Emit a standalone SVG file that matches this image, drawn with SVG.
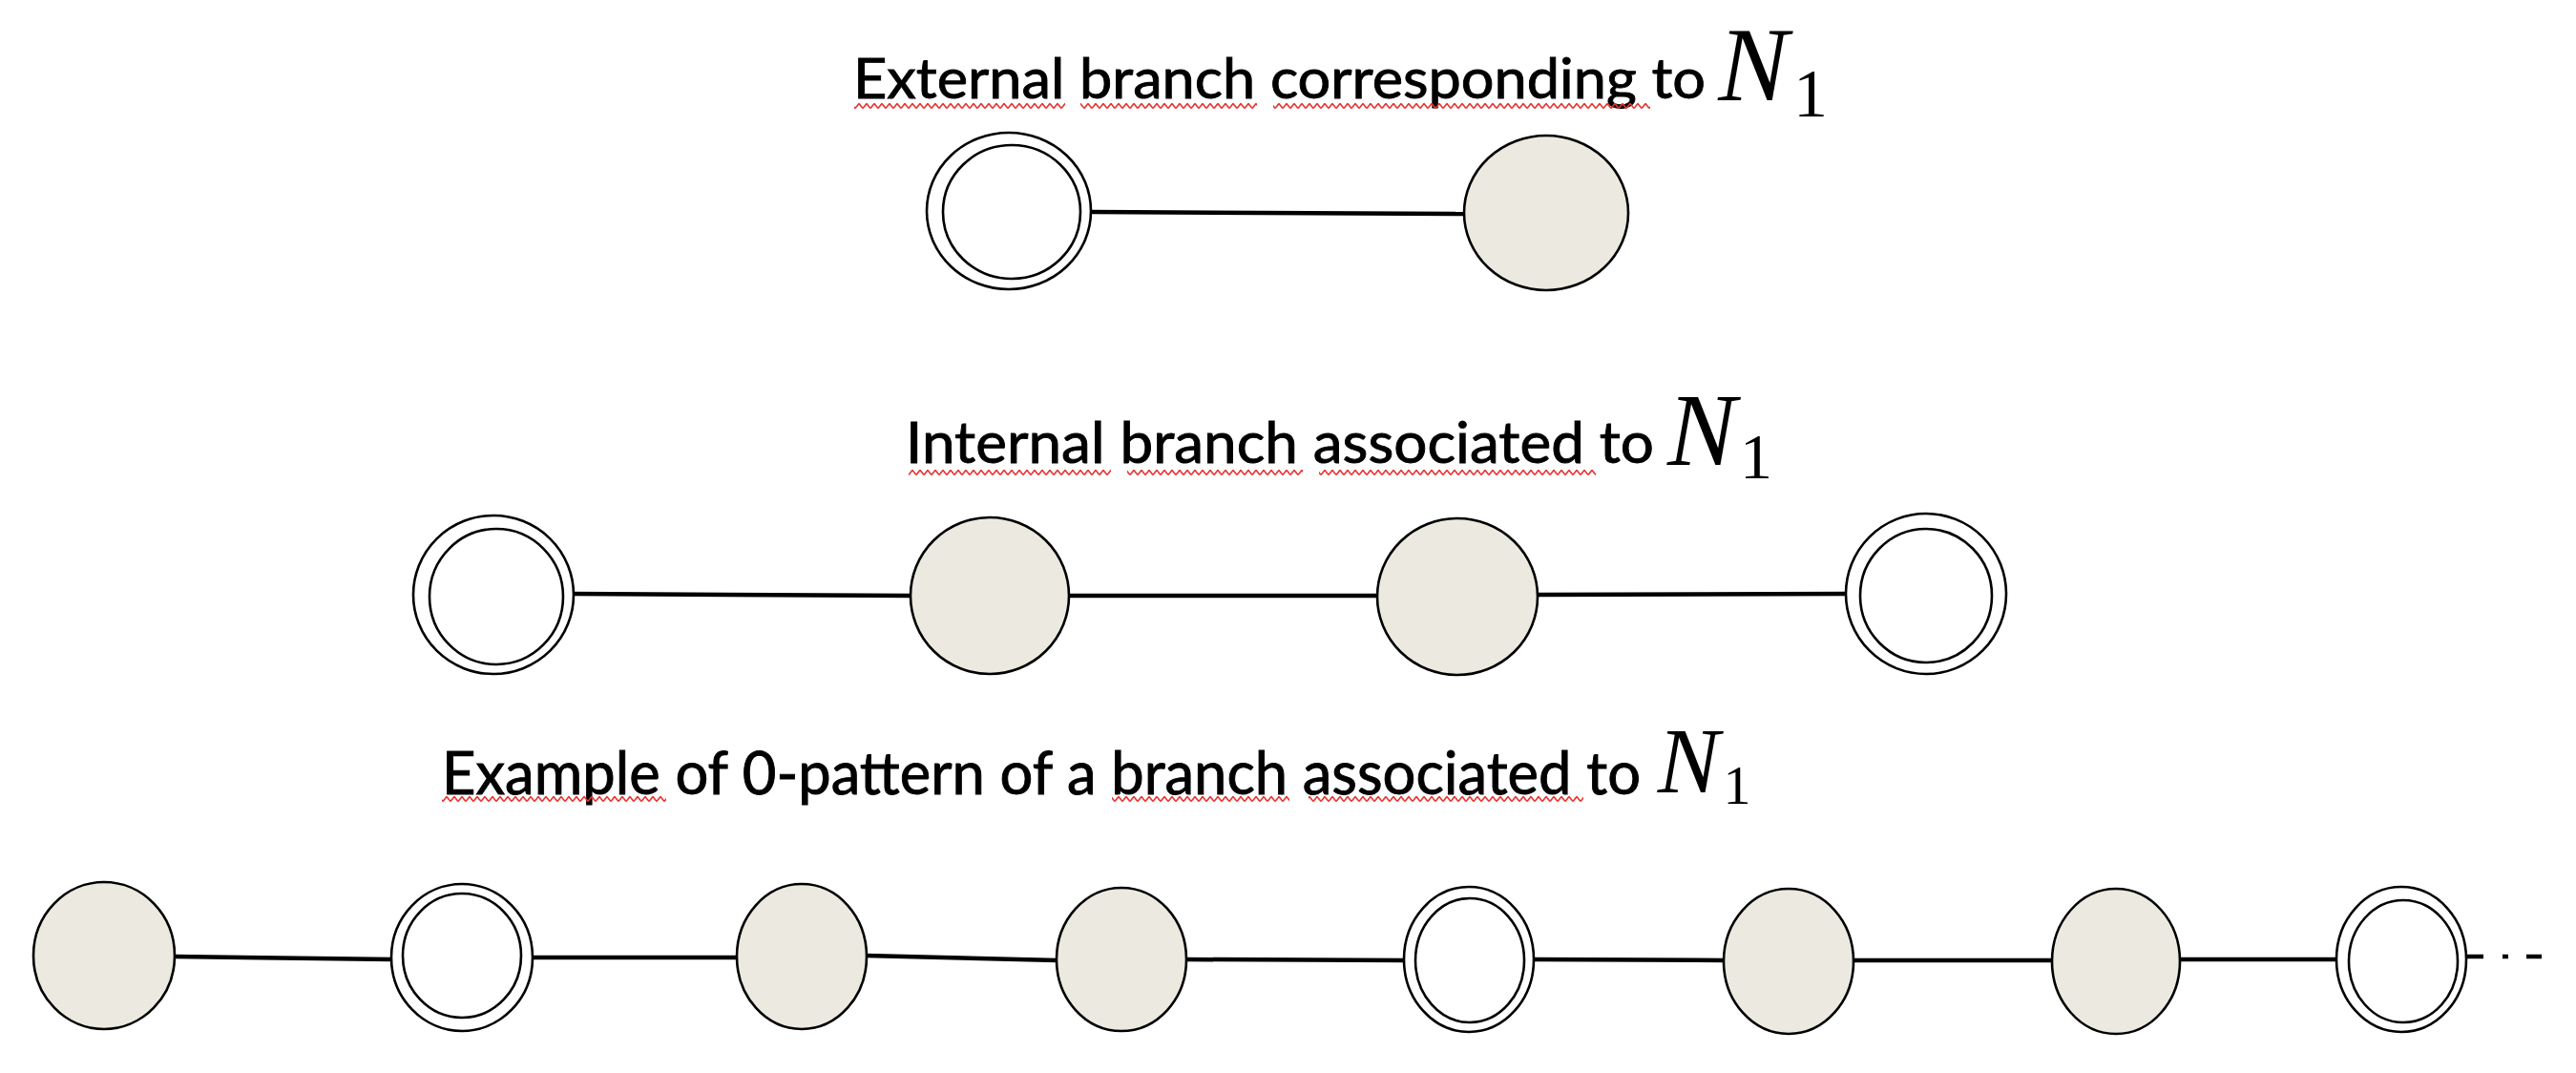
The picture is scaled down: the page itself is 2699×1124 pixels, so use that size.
<svg xmlns="http://www.w3.org/2000/svg" width="2699" height="1124" viewBox="0 0 2699 1124">
<style>
.bg{fill:#ffffff}
.lbl{font-family:Lato,"Open Sans","Liberation Sans",sans-serif;fill:#000;stroke:#000;stroke-width:0.9}
.math{font-family:"Liberation Serif","DejaVu Serif",serif;font-style:italic;fill:#000}
.sub{font-family:"Liberation Serif","DejaVu Serif",serif;fill:#000}
.filled{fill:#ECEAE0;stroke:#000;stroke-width:2.6}
.ring{fill:#fff;stroke:#000;stroke-width:2.6}
.edge{stroke:#000;stroke-width:4.5;fill:none;stroke-linecap:butt}
</style>
<defs>
<pattern id="squig" patternUnits="userSpaceOnUse" x="0" y="0" width="8" height="6">
<polyline points="0,5.5 4,0.5 8,5.5" fill="none" stroke="#e8312f" stroke-width="1.6"/>
</pattern>
</defs>
<rect class="bg" x="0" y="0" width="2699" height="1124"/>

<!-- titles -->
<g id="title1">
<text class="lbl" x="894" y="103" font-size="59" textLength="893" lengthAdjust="spacingAndGlyphs">External branch corresponding to</text>
<text class="math" x="1837" y="105" font-size="110" text-anchor="middle">N</text>
<text class="sub" x="1897" y="122" font-size="72" text-anchor="middle">1</text>
<rect x="895" y="108" width="221" height="6" fill="url(#squig)"/>
<rect x="1132" y="108" width="185" height="6" fill="url(#squig)"/>
<rect x="1334" y="108" width="395" height="6" fill="url(#squig)"/>
</g>
<g id="title2">
<text class="lbl" x="949" y="485" font-size="60" textLength="784" lengthAdjust="spacingAndGlyphs">Internal branch associated to</text>
<text class="math" x="1783" y="487" font-size="108" text-anchor="middle">N</text>
<text class="sub" x="1840" y="501" font-size="68" text-anchor="middle">1</text>
<rect x="952" y="492" width="212" height="6" fill="url(#squig)"/>
<rect x="1181" y="492" width="184" height="6" fill="url(#squig)"/>
<rect x="1382" y="492" width="290" height="6" fill="url(#squig)"/>
</g>
<g id="title3">
<text class="lbl" x="463" y="832" font-size="61" textLength="1256" lengthAdjust="spacingAndGlyphs">Example of 0-pattern of a branch associated to</text>
<text class="math" x="1769" y="830" font-size="97" text-anchor="middle">N</text>
<text class="sub" x="1820" y="842" font-size="58" text-anchor="middle">1</text>
<rect x="463" y="834" width="235" height="6" fill="url(#squig)"/>
<rect x="1165" y="834" width="186" height="6" fill="url(#squig)"/>
<rect x="1371" y="834" width="288" height="6" fill="url(#squig)"/>
</g>

<!-- connectors -->
<g id="connectors">
<line class="edge" x1="1143" y1="222" x2="1535" y2="224"/>
<line class="edge" x1="600" y1="622" x2="955" y2="624"/>
<line class="edge" x1="1119" y1="624" x2="1444" y2="624"/>
<line class="edge" x1="1610" y1="623" x2="1935" y2="622"/>
<line class="edge" x1="183" y1="1002" x2="411" y2="1005"/>
<line class="edge" x1="557" y1="1003" x2="773" y2="1003"/>
<line class="edge" x1="907" y1="1001" x2="1108" y2="1006"/>
<line class="edge" x1="1242" y1="1005" x2="1472" y2="1006"/>
<line class="edge" x1="1606" y1="1005" x2="1807" y2="1006"/>
<line class="edge" x1="1941" y1="1006" x2="2151" y2="1006"/>
<line class="edge" x1="2283" y1="1005" x2="2449" y2="1005"/>
<line class="edge" x1="2584" y1="1002" x2="2663" y2="1002" stroke-dasharray="18 20 6 19 16 40"/>
</g>

<!-- row 1 -->
<g id="r1n1"><ellipse class="ring" cx="1057" cy="221" rx="86" ry="82"/><ellipse class="ring" cx="1060" cy="222" rx="72" ry="70"/></g>
<g id="r1n2"><ellipse class="filled" cx="1620" cy="223" rx="86" ry="81"/></g>

<!-- row 2 -->
<g id="r2n1"><ellipse class="ring" cx="517" cy="623" rx="84" ry="83"/><ellipse class="ring" cx="520" cy="625" rx="70" ry="71"/></g>
<g id="r2n2"><ellipse class="filled" cx="1037" cy="624" rx="83" ry="82"/></g>
<g id="r2n3"><ellipse class="filled" cx="1527" cy="625" rx="84" ry="82"/></g>
<g id="r2n4"><ellipse class="ring" cx="2018" cy="622" rx="84" ry="84"/><ellipse class="ring" cx="2018" cy="624" rx="69" ry="70"/></g>

<!-- row 3 -->
<g id="r3n1"><ellipse class="filled" cx="109" cy="1001" rx="74" ry="77"/></g>
<g id="r3n2"><ellipse class="ring" cx="484" cy="1003" rx="74" ry="77"/><ellipse class="ring" cx="484" cy="1001" rx="62" ry="65"/></g>
<g id="r3n3"><ellipse class="filled" cx="840" cy="1002" rx="68" ry="76"/></g>
<g id="r3n4"><ellipse class="filled" cx="1175" cy="1005" rx="68" ry="75"/></g>
<g id="r3n5"><ellipse class="ring" cx="1539" cy="1005" rx="68" ry="76"/><ellipse class="ring" cx="1540" cy="1006" rx="57" ry="65"/></g>
<g id="r3n6"><ellipse class="filled" cx="1874" cy="1007" rx="68" ry="76"/></g>
<g id="r3n7"><ellipse class="filled" cx="2217" cy="1007" rx="67" ry="76"/></g>
<g id="r3n8"><ellipse class="ring" cx="2516" cy="1005" rx="68" ry="76"/><ellipse class="ring" cx="2518" cy="1007" rx="57" ry="64"/></g>
</svg>
